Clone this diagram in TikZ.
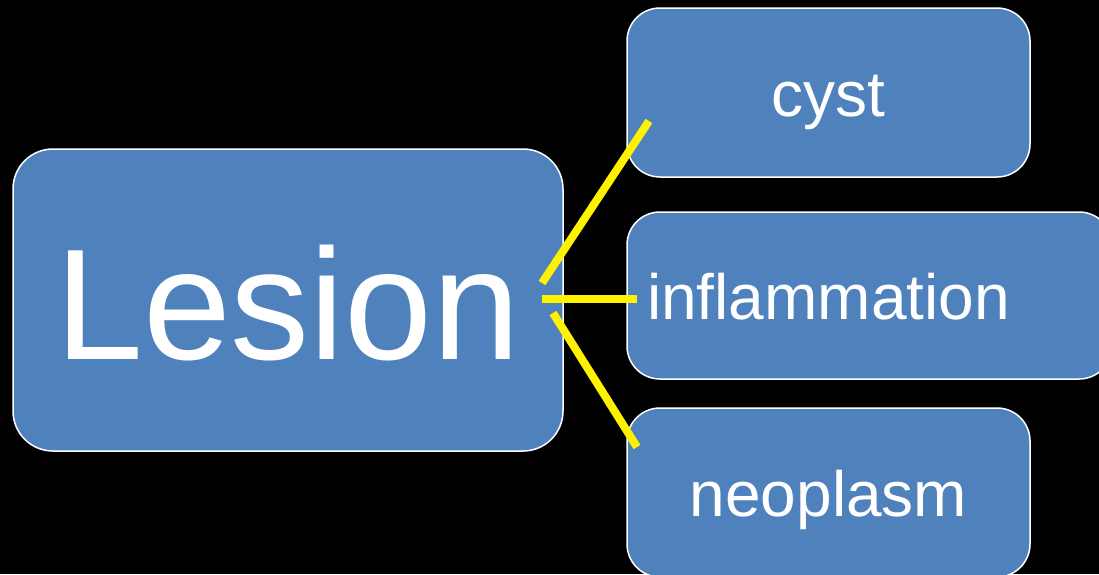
\documentclass[tikz,border=0pt]{standalone}
\usepackage{fontspec}
\setmainfont{Liberation Sans}
\usepackage{tikz}
\usetikzlibrary{shapes}
\pgfdeclarelayer{nodelayer}
\pgfdeclarelayer{edgelayer}
\pgfsetlayers{main,nodelayer,edgelayer}
\definecolor{boxblue}{HTML}{4F81BD}
\tikzstyle{none}=[inner sep=0pt]
\tikzstyle{box}=[rectangle,rounded corners=33pt,fill=boxblue,draw=white,line width=1.5pt,text=white,inner sep=0pt,text height=47pt,text depth=0pt,font=\fontsize{64}{70}\selectfont,minimum width=403pt,minimum height=169pt]
\tikzstyle{bigbox}=[box,rounded corners=40pt,text height=118pt,font=\fontsize{158}{170}\selectfont,minimum width=550pt,minimum height=302pt]
\tikzstyle{widebox}=[box,minimum width=485pt,minimum height=167pt,text width=445pt,inner xsep=20pt,align=left]
\tikzstyle{link}=[-,draw=yellow,line width=8pt]

\begin{document}
\begin{tikzpicture}[x=1pt,y=-1pt]
	\useasboundingbox (0,0) rectangle (1099,574);
	\fill [black] (0,0) rectangle (1099,574);
	\begin{pgfonlayer}{nodelayer}
		\node [style=bigbox] (lesion) at (288, 300) {Lesion};
		\node [style=box] (cyst) at (828.5, 92.5) {cyst};
		\node [style=widebox] (infl) at (869.5, 295.5) {inflammation};
		\node [style=box] (neo) at (828.5, 492.5) {neoplasm};
		\node [style=none] (lesA) at (542, 283) {};
		\node [style=none] (lesB) at (542, 299) {};
		\node [style=none] (lesC) at (553, 313) {};
		\node [style=none] (cystA) at (649, 121) {};
		\node [style=none] (inflA) at (637, 299) {};
		\node [style=none] (neoA) at (637, 447) {};
	\end{pgfonlayer}
	\begin{pgfonlayer}{edgelayer}
		\draw [style=link] (lesA.center) to (cystA.center);
		\draw [style=link] (lesB.center) to (inflA.center);
		\draw [style=link] (lesC.center) to (neoA.center);
	\end{pgfonlayer}
\end{tikzpicture}
\end{document}
